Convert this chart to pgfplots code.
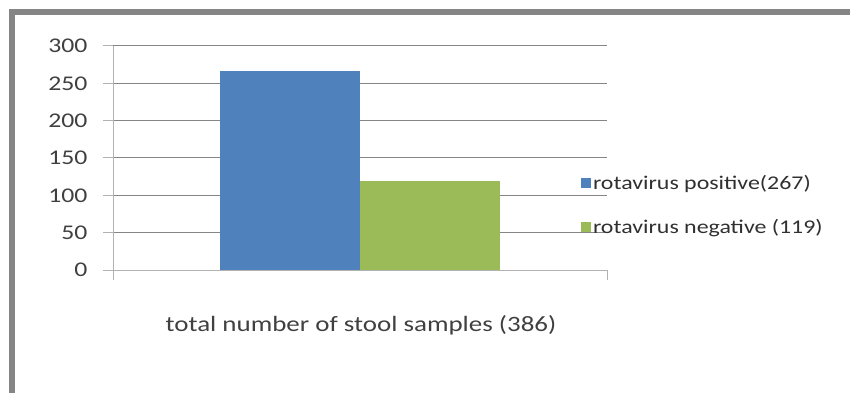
\documentclass[border=0pt]{standalone}
\usepackage{pgfplots}
\pgfplotsset{compat=1.18}
\usepackage{fontspec}
\setmainfont{Carlito}[FakeStretch=1.23]
\definecolor{bblue}{HTML}{4F81BD}
\definecolor{bgreen}{HTML}{9BBB59}
\definecolor{txt}{HTML}{404040}
\definecolor{legtxt}{HTML}{303030}
\definecolor{gridc}{HTML}{868686}
\definecolor{framec}{HTML}{858585}
\begin{document}
\begin{tikzpicture}[x=1bp,y=1bp]
\path[use as bounding box] (0,0) rectangle (850,392);
\draw[line width=6bp, color=framec] (12,-20) -- (12,380) -- (880,380);
\begin{axis}[
  at={(113bp,122bp)}, anchor=south west,
  scale only axis, width=494bp, height=224bp,
  xmin=-1, xmax=1, ymin=0, ymax=300,
  ybar=0pt, bar width=140bp,
  axis lines*=left,
  axis line style={color=gray!60, line width=1bp},
  ytick={0,50,...,300},
  ymajorgrids, grid style={color=gridc, line width=1bp},
  tick align=outside, major tick length=10bp,
  tick style={color=gray!60, line width=1bp},
  xtick={-1,1}, xticklabels={},
  font=\fontsize{21}{25}\selectfont,
  /pgf/number format/assume math mode=true,
  yticklabel style={text=txt, xshift=-12bp},
  legend style={at={(0.947,0.29)}, anchor=west, draw=none, fill=none,
    font=\fontsize{19.5}{23}\selectfont, text=legtxt, row sep=25bp,
    inner sep=0pt, /tikz/every even column/.append style={column sep=0bp}},
  legend cell align=left,
  legend image code/.code={\fill[#1] (0bp,-5bp) rectangle (10bp,5bp);},
]
\addplot[fill=bblue, draw=none] coordinates {(0,267)};
\addplot[fill=bgreen, draw=none] coordinates {(0,119)};
\legend{rotavirus positive(267), rotavirus negative (119)}
\end{axis}
\node[text=txt, font=\fontsize{22}{26}\selectfont] at (361,67) {total number of stool samples (386)};
\end{tikzpicture}
\end{document}
